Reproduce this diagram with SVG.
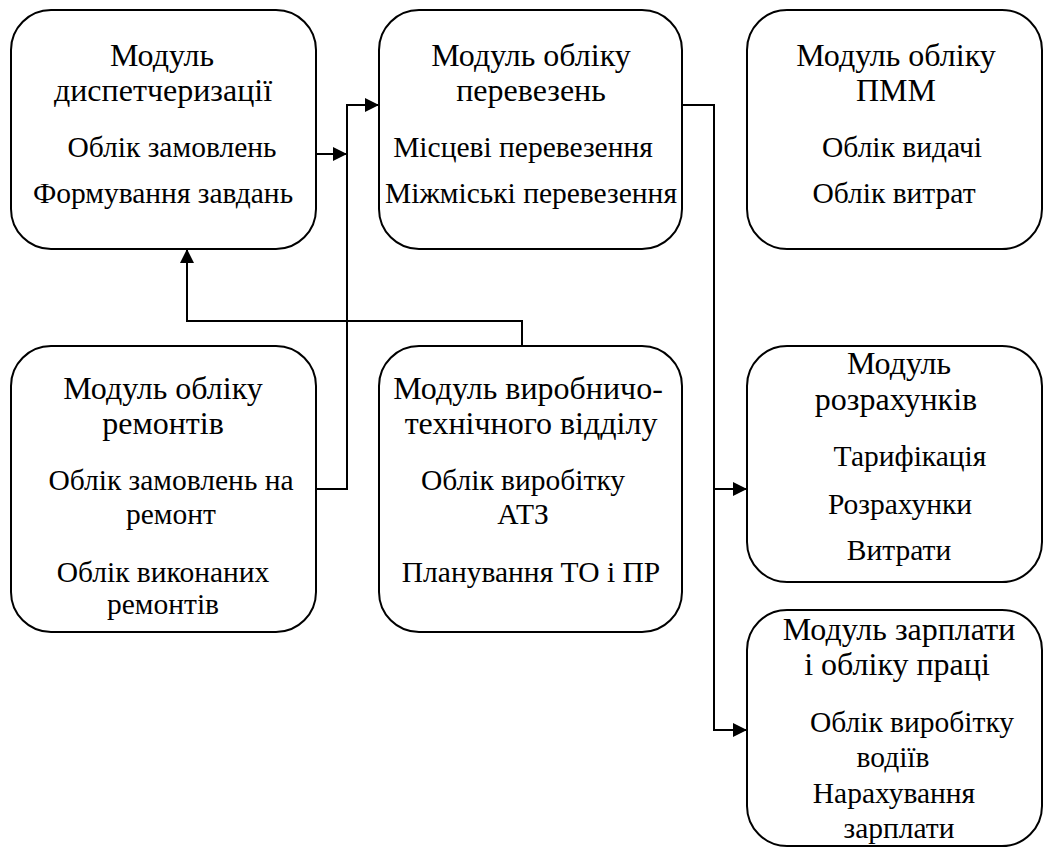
<svg xmlns="http://www.w3.org/2000/svg" width="1044" height="847" viewBox="0 0 1044 847">
<style>
.box{fill:#fff;stroke:#000;stroke-width:2}
.t{font-size:32px}
.s{font-size:29.5px}
.c{fill:none;stroke:#000;stroke-width:2}
</style>
<defs>
<marker id="ah" markerWidth="14" markerHeight="14" refX="14" refY="7" orient="auto" markerUnits="userSpaceOnUse">
<path d="M0,0 L14,7 L0,14 Z" fill="#000"/>
</marker>
</defs>
<rect width="1044" height="847" fill="#fff"/>
<g id="connectors">
<path class="c" d="M316,154 H347" marker-end="url(#ah)"/>
<path class="c" d="M316,489 H347 V105 H379" marker-end="url(#ah)"/>
<path class="c" d="M522,346 V321 H187 V249" marker-end="url(#ah)"/>
<path class="c" d="M682,105 H714 V489 H747" marker-end="url(#ah)"/>
<path class="c" d="M714,489 V730 H747" marker-end="url(#ah)"/>
</g>
<g font-family="Liberation Serif, Times New Roman, DejaVu Serif, serif" text-anchor="middle" fill="#000">
<g id="n1">
<rect class="box" x="11" y="10" width="305" height="239" rx="40"/>
<text class="t" x="162" y="66">Модуль</text>
<text class="t" x="163" y="101">диспетчеризації</text>
<text class="s" x="172" y="157">Облік замовлень</text>
<text class="s" x="163" y="203">Формування завдань</text>
</g>
<g id="n2">
<rect class="box" x="379" y="10" width="303" height="239" rx="40"/>
<text class="t" x="531" y="66">Модуль обліку</text>
<text class="t" x="531" y="101">перевезень</text>
<text class="s" x="523" y="157">Місцеві перевезення</text>
<text class="s" x="531" y="203">Міжміські перевезення</text>
</g>
<g id="n3">
<rect class="box" x="747" y="10" width="295" height="239" rx="40"/>
<text class="t" x="896" y="66">Модуль обліку</text>
<text class="t" x="896" y="101">ПММ</text>
<text class="s" x="902" y="157">Облік видачі</text>
<text class="s" x="894" y="203">Облік витрат</text>
</g>
<g id="n4">
<rect class="box" x="11" y="346" width="305" height="286" rx="40"/>
<text class="t" x="163" y="399">Модуль обліку</text>
<text class="t" x="163" y="434">ремонтів</text>
<text class="s" x="171" y="490">Облік замовлень на</text>
<text class="s" x="171" y="524">ремонт</text>
<text class="s" x="163" y="582">Облік виконаних</text>
<text class="s" x="163" y="614">ремонтів</text>
</g>
<g id="n5">
<rect class="box" x="379" y="346" width="303" height="286" rx="40"/>
<text class="t" x="528" y="399">Модуль виробничо-</text>
<text class="t" x="531" y="434">технічного відділу</text>
<text class="s" x="523" y="490">Облік виробітку</text>
<text class="s" x="523" y="524">АТЗ</text>
<text class="s" x="531" y="582">Планування ТО і ПР</text>
</g>
<g id="n6">
<rect class="box" x="747" y="346" width="295" height="236" rx="40"/>
<text class="t" x="899" y="374">Модуль</text>
<text class="t" x="896" y="410">розрахунків</text>
<text class="s" x="910" y="466">Тарифікація</text>
<text class="s" x="900" y="514">Розрахунки</text>
<text class="s" x="899" y="560">Витрати</text>
</g>
<g id="n7">
<rect class="box" x="747" y="610" width="295" height="236" rx="40"/>
<text class="t" x="899" y="640">Модуль зарплати</text>
<text class="t" x="897" y="675">і обліку праці</text>
<text class="s" x="912" y="732">Облік виробітку</text>
<text class="s" x="893" y="767">водіїв</text>
<text class="s" x="894" y="803">Нарахування</text>
<text class="s" x="899" y="838">зарплати</text>
</g>
</g>
</svg>
